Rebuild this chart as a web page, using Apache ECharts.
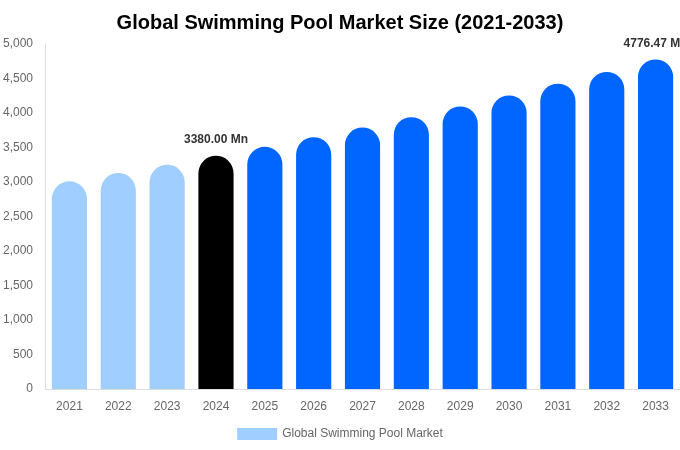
<!DOCTYPE html>
<html>
<head>
<meta charset="utf-8">
<script src="https://cdn.jsdelivr.net/npm/echarts@6/dist/echarts.min.js"></script>
<style>html,body{margin:0;padding:0;background:#fff}#c{width:680px;height:450px}</style>
</head>
<body>
<div id="c"></div>
<script>
var years = ['2021','2022','2023','2024','2025','2026','2027','2028','2029','2030','2031','2032','2033'];
var values = [3010, 3130, 3250, 3380, 3510, 3650, 3790, 3940, 4095, 4255, 4425, 4595, 4776.47];
var barColors = ['#A0CFFF','#A0CFFF','#A0CFFF','#000000','#0066FF','#0066FF','#0066FF','#0066FF','#0066FF','#0066FF','#0066FF','#0066FF','#0066FF'];
var labeledYears = ['2024','2033'];

var chart = echarts.init(document.getElementById('c'));
chart.setOption({
  animation: false,
  title: {
    text: 'Global Swimming Pool Market Size (2021-2033)',
    left: 'center', top: 8,
    textStyle: {fontFamily: 'Liberation Sans, Arial', fontSize: 20, fontWeight: 'bold', color: '#000'}
  },
  legend: {
    bottom: 5, left: 'center',
    itemWidth: 40, itemHeight: 12,
    icon: 'rect',
    textStyle: {fontFamily: 'Liberation Sans, Arial', fontSize: 12, color: '#666'},
    data: [{name: 'Global Swimming Pool Market', itemStyle: {color: '#A0CFFF'}}]
  },
  grid: {left: 44, right: 0, top: 44, bottom: 61},
  xAxis: {
    type: 'category', data: years,
    axisLine: {lineStyle: {color: '#ddd'}},
    axisTick: {show: false},
    axisLabel: {color: '#666', fontSize: 12, margin: 12, fontFamily: 'Liberation Sans, Arial'}
  },
  yAxis: {
    type: 'value', min: 0, max: 5000, interval: 500,
    axisLine: {show: true, lineStyle: {color: '#ddd'}},
    axisTick: {show: false},
    splitLine: {show: false},
    axisLabel: {color: '#666', fontSize: 12, margin: 12, fontFamily: 'Liberation Sans, Arial',
      formatter: function(v){ return v.toLocaleString('en-US'); }}
  },
  series: [{
    name: 'Global Swimming Pool Market',
    type: 'bar',
    barWidth: '72%',
    data: values.map(function(v, i){
      var show = labeledYears.indexOf(years[i]) >= 0;
      return {
        value: v,
        itemStyle: {color: barColors[i], borderRadius: [18,18,0,0]},
        label: {show: show, position: 'top', distance: 10,
          formatter: function(p){ return p.value.toFixed(2) + ' Mn'; },
          color: '#333', fontWeight: 'bold', fontSize: 12, fontFamily: 'Liberation Sans, Arial'}
      };
    })
  }]
});
</script>
</body>
</html>
